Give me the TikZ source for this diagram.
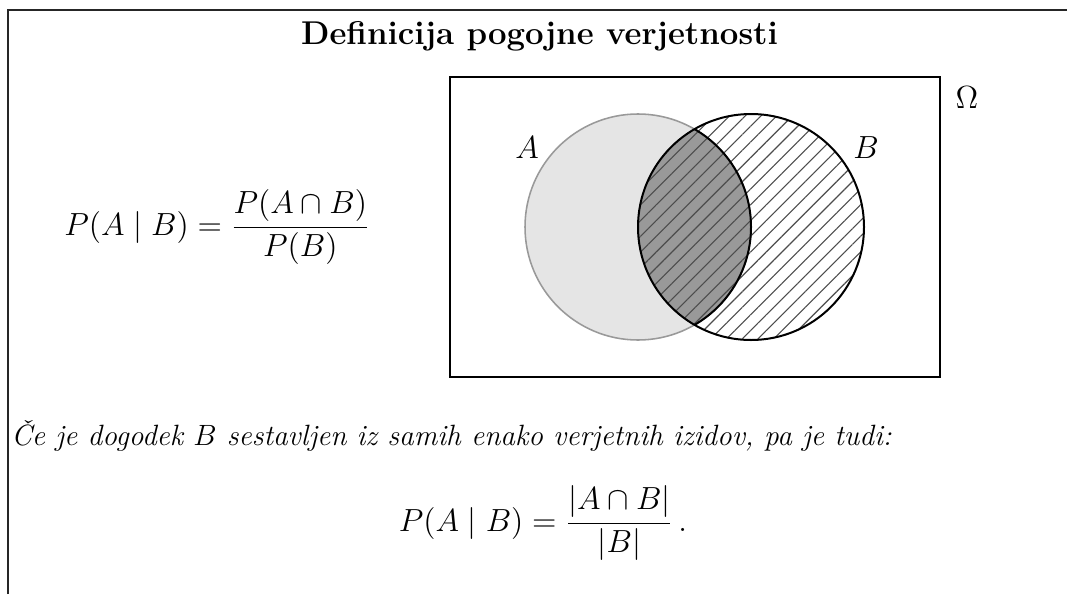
\documentclass[tikz,border=0pt,12pt]{standalone}
\usepackage{graphicx}
\usetikzlibrary{patterns.meta}
\begin{document}
\begin{tikzpicture}[x=0.45pt,y=-0.45pt]
\useasboundingbox (0,0) rectangle (1067,594);
\tikzset{
  framebox/.style={line width=0.5pt, black!85},
  thickline/.style={line width=0.9pt, black},
  hatch/.style={pattern={Lines[angle=45,distance=5pt,line width=0.5pt]}, pattern color=black!70},
  mathtxt/.style={font=\fontsize{14.4}{17}\selectfont},
}
% outer frame (only top and left edges visible)
\draw[framebox] (8,594) -- (8,10) -- (1067,10);
\node (title) at (539.5,36) {\scalebox{1.03}{\large\bfseries Definicija pogojne verjetnosti}};
\node[anchor=base, mathtxt] (f1) at (217,235) {$\displaystyle P(A\mid B)=\frac{P(A\cap B)}{P(B)}$};
% Venn diagram
\coordinate (ca) at (638,227);
\coordinate (cb) at (751,227);
\fill[gray!20] (ca) circle[radius=113];
\begin{scope}
  \clip (cb) circle[radius=113];
  \fill[gray!80] (ca) circle[radius=113];
\end{scope}
\path[hatch] (cb) circle[radius=113];
\draw[gray!80, line width=0.7pt] (ca) circle[radius=113];
\begin{scope}
  \clip (cb) circle[radius=113];
  \draw[thickline] (ca) circle[radius=113];
\end{scope}
\draw[thickline] (cb) circle[radius=113];
\draw[thickline] (450,77) rectangle (940,377);
\node[mathtxt] (la) at (527,148) {$A$};
\node[mathtxt] (lb) at (866,148) {$B$};
\node[mathtxt] (om) at (967,98) {$\Omega$};
% text
\node[anchor=base west, inner sep=0pt] (txt) at (11,445) {\scalebox{1.1}{\itshape Če je dogodek $B$ sestavljen iz samih enako verjetnih izidov, pa je tudi:}};
\node[anchor=base, mathtxt] (f2) at (543,531) {$\displaystyle P(A\mid B)=\frac{|A\cap B|}{|B|}\,.$};
\end{tikzpicture}
\end{document}
